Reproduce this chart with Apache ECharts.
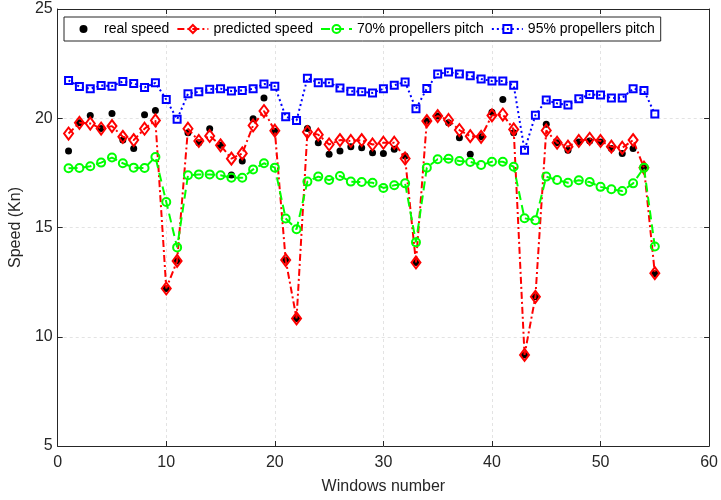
<!DOCTYPE html>
<html>
<head>
<meta charset="utf-8">
<script src="https://cdn.jsdelivr.net/npm/echarts@6/dist/echarts.min.js"></script>
<style>
  html, body { margin: 0; padding: 0; background: #fff; }
  #chart { width: 721px; height: 500px; }
</style>
</head>
<body>
<div id="chart"></div>
<script>
// Window indices (x axis)
const windows = [];
for (let i = 1; i <= 55; i++) windows.push(i);

// Measured vessel speed (knots)
const realSpeed = [
  18.50, 19.79, 20.13, 19.53, 20.22, 19.00, 18.61, 20.16, 20.36, 12.21,
  13.47, 19.34, 18.88, 19.52, 18.76, 17.40, 18.04, 19.98, 20.93, 19.41,
  13.51, 10.84, 19.53, 18.88, 18.35, 18.50, 18.70, 18.65, 18.42, 18.39,
  18.58, 18.27, 13.40, 19.87, 20.10, 19.79, 19.11, 18.35, 19.15, 20.28,
  20.86, 19.34, 9.17, 11.83, 19.72, 18.88, 18.53, 18.91, 18.96, 18.91,
  18.61, 18.39, 18.61, 17.74, 12.88
];

// Model prediction (knots)
const predictedSpeed = [
  19.30, 19.79, 19.76, 19.53, 19.64, 19.15, 19.00, 19.52, 19.90, 12.21,
  13.47, 19.52, 18.96, 19.19, 18.76, 18.15, 18.39, 19.67, 20.33, 19.43,
  13.51, 10.84, 19.37, 19.25, 18.80, 19.00, 18.96, 19.00, 18.80, 18.88,
  18.88, 18.16, 13.40, 19.87, 20.10, 19.92, 19.46, 19.18, 19.15, 20.13,
  20.17, 19.49, 9.17, 11.83, 19.44, 18.88, 18.70, 18.96, 19.06, 18.96,
  18.70, 18.65, 19.00, 17.74, 12.91
];

// Speed at 70% propeller pitch
const pitch70 = [
  17.71, 17.72, 17.80, 17.97, 18.20, 17.94, 17.74, 17.72, 18.23, 16.17,
  14.09, 17.39, 17.43, 17.43, 17.39, 17.28, 17.28, 17.66, 17.94, 17.74,
  15.41, 14.92, 17.10, 17.33, 17.17, 17.36, 17.10, 17.08, 17.05, 16.81,
  16.93, 17.02, 14.32, 17.74, 18.12, 18.15, 18.04, 18.00, 17.86, 18.01,
  18.01, 17.78, 15.42, 15.33, 17.33, 17.17, 17.05, 17.16, 17.08, 16.86,
  16.75, 16.67, 17.02, 17.74, 14.13
];

// Speed at 95% propeller pitch
const pitch95 = [
  21.73, 21.45, 21.35, 21.50, 21.47, 21.68, 21.59, 21.41, 21.62, 20.86,
  19.95, 21.12, 21.21, 21.33, 21.35, 21.25, 21.27, 21.35, 21.57, 21.47,
  20.07, 19.90, 21.83, 21.63, 21.63, 21.39, 21.24, 21.21, 21.16, 21.35,
  21.51, 21.66, 20.43, 21.36, 22.02, 22.12, 22.02, 21.94, 21.80, 21.70,
  21.70, 21.51, 18.54, 20.14, 20.83, 20.68, 20.61, 20.89, 21.09, 21.06,
  20.93, 20.93, 21.35, 21.27, 20.20
];

const seriesNames = ['real speed', 'predicted speed', '70% propellers pitch', '95% propellers pitch'];

const pairs = (ys) => windows.map((x, i) => [x, ys[i]]);

const FONT = 'Liberation Sans, Arial, Helvetica, sans-serif';
const INK = '#262626';

const gridLine = { show: true, lineStyle: { color: '#e3e3e3', type: [3, 3], width: 1 } };

const chart = echarts.init(document.getElementById('chart'), null, { renderer: 'canvas' });

chart.setOption({
  animation: false,
  backgroundColor: '#fff',
  grid: { left: 57, right: 9, top: 9, bottom: 53, containLabel: false },
  legend: {
    data: seriesNames,
    left: 64,
    top: 17,
    orient: 'horizontal',
    padding: [5, 6, 5, 4],
    itemWidth: 31,
    itemHeight: 10,
    itemGap: 7,
    borderColor: INK,
    borderWidth: 1,
    backgroundColor: '#fff',
    textStyle: { fontFamily: FONT, fontSize: 14, color: '#000' }
  },
  xAxis: [
    {
      type: 'value', min: 0, max: 60, interval: 10, position: 'bottom',
      name: 'Windows number', nameLocation: 'middle', nameGap: 33,
      nameTextStyle: { fontFamily: FONT, fontSize: 16, color: INK },
      axisLine: { show: true, onZero: false, lineStyle: { color: INK, width: 1 } },
      axisTick: { show: true, inside: true, length: 5, lineStyle: { color: INK } },
      axisLabel: { fontFamily: FONT, fontSize: 16, color: INK, margin: 9 },
      splitLine: gridLine
    },
    {
      type: 'value', min: 0, max: 60, interval: 10, position: 'top',
      axisLine: { show: true, onZero: false, lineStyle: { color: INK, width: 1 } },
      axisTick: { show: true, inside: true, length: 5, lineStyle: { color: INK } },
      axisLabel: { show: false },
      splitLine: { show: false }
    }
  ],
  yAxis: [
    {
      type: 'value', min: 5, max: 25, interval: 5, position: 'left',
      name: 'Speed (Kn)', nameLocation: 'middle', nameGap: 27, nameRotate: 90,
      nameTextStyle: { fontFamily: FONT, fontSize: 16, color: INK },
      axisLine: { show: true, onZero: false, lineStyle: { color: INK, width: 1 } },
      axisTick: { show: true, inside: true, length: 5, lineStyle: { color: INK } },
      axisLabel: { fontFamily: FONT, fontSize: 16, color: INK, margin: 5 },
      splitLine: gridLine
    },
    {
      type: 'value', min: 5, max: 25, interval: 5, position: 'right',
      axisLine: { show: true, onZero: false, lineStyle: { color: INK, width: 1 } },
      axisTick: { show: true, inside: true, length: 5, lineStyle: { color: INK } },
      axisLabel: { show: false },
      splitLine: { show: false }
    }
  ],
  series: [
    {
      name: seriesNames[0], type: 'line', data: pairs(realSpeed),
      symbol: 'circle', symbolSize: 7, showAllSymbol: true,
      lineStyle: { width: 0, opacity: 0 },
      itemStyle: { color: '#000' },
      z: 2
    },
    {
      name: seriesNames[1], type: 'line', data: pairs(predictedSpeed),
      symbol: 'diamond', symbolSize: [9, 12], showAllSymbol: true,
      lineStyle: { color: '#ff0000', width: 2, type: [7, 3, 2, 3] },
      itemStyle: { color: 'rgba(255,255,255,0)', borderColor: '#ff0000', borderWidth: 2 },
      z: 3
    },
    {
      name: seriesNames[2], type: 'line', data: pairs(pitch70),
      symbol: 'circle', symbolSize: 8, showAllSymbol: true,
      lineStyle: { color: '#00ff00', width: 2, type: [9, 5] },
      itemStyle: { color: 'rgba(255,255,255,0)', borderColor: '#00ff00', borderWidth: 2 },
      z: 4
    },
    {
      name: seriesNames[3], type: 'line', data: pairs(pitch95),
      symbol: 'rect', symbolSize: 7, showAllSymbol: true,
      lineStyle: { color: '#0000ff', width: 2, type: [2, 3] },
      itemStyle: { color: 'rgba(255,255,255,0)', borderColor: '#0000ff', borderWidth: 2 },
      z: 5
    }
  ]
});
</script>
</body>
</html>
